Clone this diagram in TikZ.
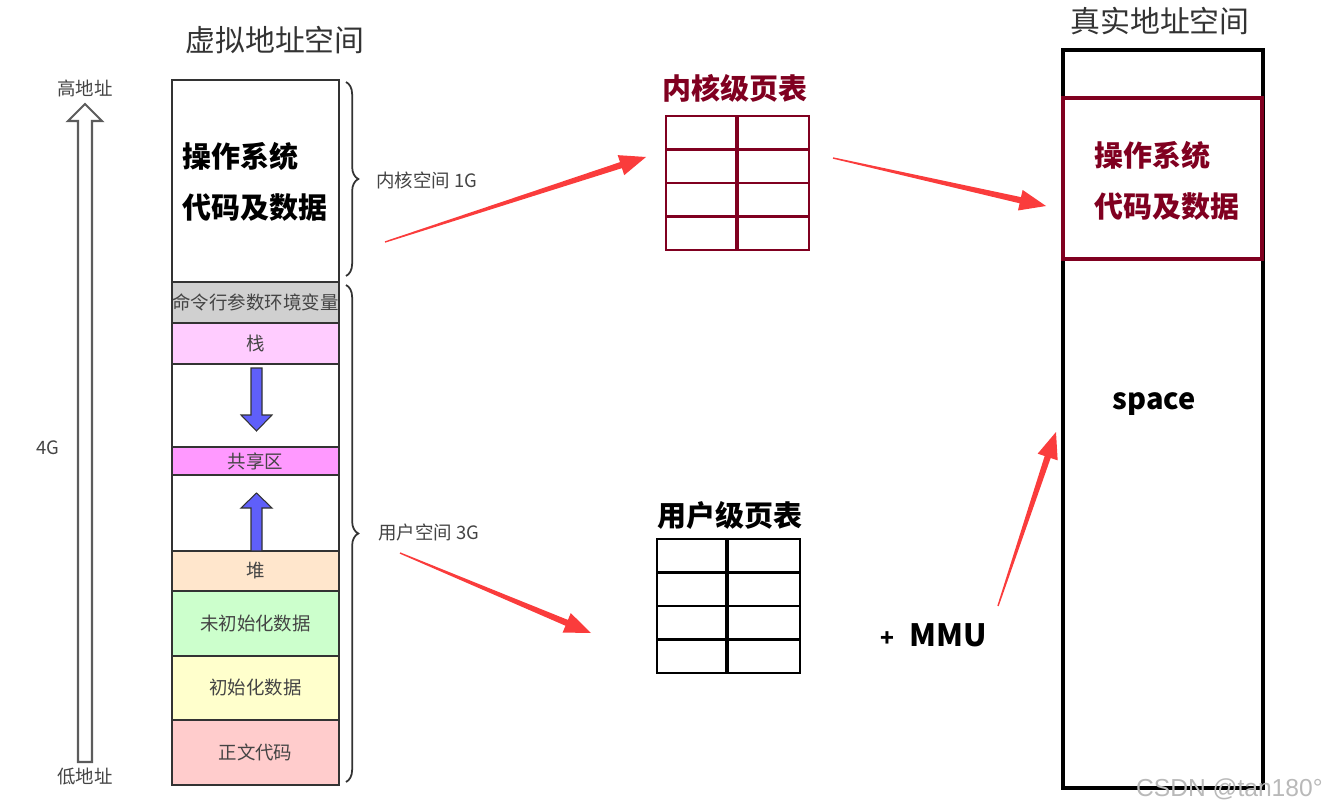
\documentclass[tikz,border=0pt]{standalone}
\usepackage{fontspec}
\setmainfont{Noto Sans CJK SC}
\newfontfamily\wmfont{Liberation Sans}
\usetikzlibrary{calc,decorations.pathreplacing}
\definecolor{dred}{RGB}{128,0,32}
\definecolor{arrowred}{RGB}{250,60,60}
\definecolor{txtgray}{RGB}{68,68,68}
\definecolor{linegray}{RGB}{51,51,51}
\definecolor{cmdgray}{RGB}{208,208,208}
\definecolor{stackpink}{RGB}{255,204,255}
\definecolor{sharemag}{RGB}{255,153,255}
\definecolor{heappeach}{RGB}{255,230,204}
\definecolor{bssgreen}{RGB}{204,255,204}
\definecolor{datayellow}{RGB}{255,255,204}
\definecolor{textred}{RGB}{255,204,204}
\definecolor{blueup}{RGB}{95,95,250}
\def\pxu{0.02cm}
\newcommand\taparrow[2]{%
  \coordinate (tmpH) at ($(#2)!15pt!(#1)$);
  \fill[arrowred] ($(#1)!0.4pt!90:(#2)$) -- ($(tmpH)!1.8pt!-90:(#1)$) -- ($(tmpH)!6pt!-90:(#1)$) -- (#2)
     -- ($(tmpH)!6pt!90:(#1)$) -- ($(tmpH)!1.8pt!90:(#1)$) -- ($(#1)!0.4pt!-90:(#2)$) -- cycle;}
\tikzset{
  layer/.style={draw=linegray, line width=1.1pt, minimum width=167*\pxu, inner sep=0pt, text=txtgray, font=\fontsize{10.5}{12}\selectfont},
  ltxt/.style={text=txtgray, inner sep=0pt},
  bigtitle/.style={text=linegray, inner sep=0pt, font=\fontsize{17}{20}\selectfont},
  boldbig/.style={inner sep=0pt, font=\fontsize{16.5}{20}\selectfont\bfseries},
  mybrace/.style={decorate, decoration={brace, amplitude=7pt}, draw=linegray, line width=1pt},
  tabline/.style={line width=1.4pt},
  blockarrow/.style={fill=blueup, draw=linegray, line width=0.6pt},
}
\begin{document}
\begin{tikzpicture}[x=0.02cm, y=-0.02cm]
\useasboundingbox (0,0) rectangle (1326,811);

% titles
\node[bigtitle] (vtitle) at (275,40) {虚拟地址空间};
\node[bigtitle] (rtitle) at (1160,21) {真实地址空间};

% left hollow arrow
\draw[draw=linegray!80, line width=1.2pt, fill=white, line join=miter]
  (78,762) -- (78,121) -- (68,121) -- (85,104) -- (102,121) -- (92,121) -- (92,762) -- cycle;
\node[ltxt, font=\fontsize{10.5}{12}\selectfont] (high) at (85,88) {高地址};
\node[ltxt, font=\fontsize{10.5}{12}\selectfont] (low) at (85,777) {低地址};
\node[ltxt, font=\fontsize{10.5}{12}\selectfont] (fourg) at (48,448) {4G};

% virtual layers
\node[layer, minimum height=202*\pxu, fill=white] (kern) at (255.5,181) {};
\node[boldbig, anchor=west] (ktxt1) at (182,156) {操作系统};
\node[boldbig, anchor=west] (ktxt2) at (182,208) {代码及数据};
\node[layer, minimum height=41*\pxu, fill=cmdgray] (cmd) at (255.5,302.5) {命令行参数环境变量};
\node[layer, minimum height=41*\pxu, fill=stackpink] (stack) at (255.5,343.5) {栈};
\node[layer, minimum height=83*\pxu, fill=white] (gap1) at (255.5,405.5) {};
\node[layer, minimum height=28*\pxu, fill=sharemag] (share) at (255.5,461) {共享区};
\node[layer, minimum height=76*\pxu, fill=white] (gap2) at (255.5,513) {};
\node[layer, minimum height=40*\pxu, fill=heappeach] (heap) at (255.5,571) {堆};
\node[layer, minimum height=65*\pxu, fill=bssgreen] (bss) at (255.5,623.5) {未初始化数据};
\node[layer, minimum height=64*\pxu, fill=datayellow] (data) at (255.5,688) {初始化数据};
\node[layer, minimum height=65*\pxu, fill=textred] (text) at (255.5,752.5) {正文代码};

% blue arrows
\draw[blockarrow] (251,368) -- (262,368) -- (262,415) -- (272,415) -- (256.5,431) -- (241,415) -- (251,415) -- cycle;
\draw[blockarrow] (251,551) -- (262,551) -- (262,508) -- (272,508) -- (256.5,493) -- (241,508) -- (251,508) -- cycle;

% braces
\coordinate (kb1) at (346,82);
\coordinate (kb2) at (346,276);
\coordinate (ub1) at (346,285);
\coordinate (ub2) at (346,782);
\draw[mybrace] (kb1) -- (kb2);
\draw[mybrace] (ub1) -- (ub2);
\node[ltxt, anchor=west, font=\fontsize{10.5}{12}\selectfont] (klabel) at (376,180) {内核空间 1G};
\node[ltxt, anchor=west, font=\fontsize{10.5}{12}\selectfont] (ulabel) at (378,532) {用户空间 3G};

% kernel page table
\node[boldbig, text=dred, font=\fontsize{16.5}{20}\selectfont\bfseries] (ktitle) at (735,88) {内核级页表};
\node[draw=dred, tabline, minimum width=143*\pxu, minimum height=134*\pxu, inner sep=0pt] (ktab) at (737.5,183) {};
\draw[dred, tabline] (666,149.5) -- (809,149.5) (666,183) -- (809,183) (666,216.5) -- (809,216.5);
\draw[dred, line width=2.4pt] (737,116) -- (737,250);

% user page table
\node[boldbig] (utitle) at (730,515) {用户级页表};
\node[draw=black, tabline, minimum width=143*\pxu, minimum height=134*\pxu, inner sep=0pt] (utab) at (728.5,606) {};
\draw[black, tabline] (657,572.5) -- (800,572.5) (657,606) -- (800,606) (657,639.5) -- (800,639.5);
\draw[black, line width=2.4pt] (727,539) -- (727,673);

% MMU
\node[boldbig, font=\fontsize{17.5}{20}\selectfont\bfseries] (mmu) at (934,635) {{\fontsize{13}{15}\selectfont +}\hspace{0.5em}MMU};

% real address space
\node[draw=black, line width=2.8pt, minimum width=200*\pxu, minimum height=738*\pxu, inner sep=0pt] (real) at (1163,419) {};
\node[draw=dred, line width=1.8pt, minimum width=199*\pxu, minimum height=161*\pxu, inner sep=0pt] (realk) at (1162.5,178.5) {};
\node[boldbig, text=dred, anchor=west] (rk1) at (1094,155) {操作系统};
\node[boldbig, text=dred, anchor=west] (rk2) at (1094,207) {代码及数据};
\node[boldbig] (space) at (1154,404) {space};

% red arrows
\coordinate (a1s) at (385,242);
\coordinate (a1e) at (646,157);
\coordinate (a2s) at (833,158);
\coordinate (a2e) at (1046,206);
\coordinate (a3s) at (400,553);
\coordinate (a3e) at (591,633);
\coordinate (a4s) at (998,606);
\coordinate (a4e) at (1056,432);
\taparrow{a1s}{a1e}
\taparrow{a2s}{a2e}
\taparrow{a3s}{a3e}
\taparrow{a4s}{a4e}

% watermark
\node[text=gray!55, inner sep=0pt, font=\wmfont\fontsize{14}{16}\selectfont, anchor=east] (wm) at (1323,789) {CSDN @tan180°};
\end{tikzpicture}
\end{document}
